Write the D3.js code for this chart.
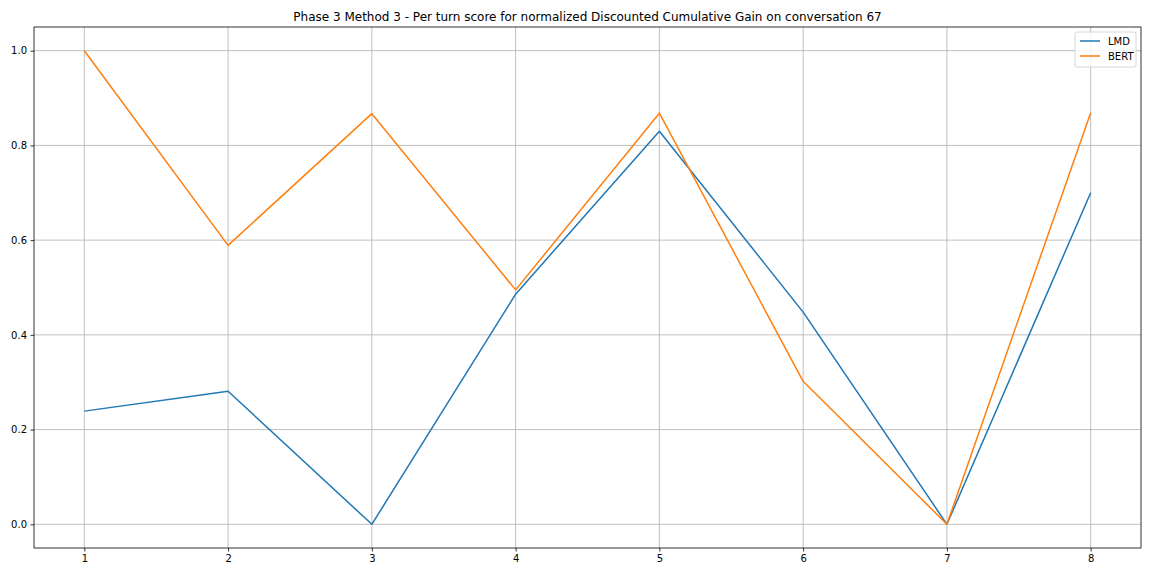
<!DOCTYPE html>
<html><head><meta charset="utf-8">
<script src="https://cdn.jsdelivr.net/npm/d3@7"></script>
<style>body{margin:0;background:#fff}svg{display:block;font-family:"DejaVu Sans",sans-serif}</style>
</head><body><svg id="c" width="1152" height="576"></svg>
<script>
const turns = [1,2,3,4,5,6,7,8];
const lmd = [0.239,0.281,0.0,0.486,0.830,0.448,0.0,0.700];
const bert = [1.0,0.589,0.867,0.495,0.868,0.302,0.0,0.869];
const seriesNames = ["LMD","BERT"];
const colors = ["#1f77b4","#ff7f0e"];
const yTicks = [0,0.2,0.4,0.6,0.8,1.0];
const title = "Phase 3 Method 3 - Per turn score for normalized Discounted Cumulative Gain on conversation 67";

const svg = d3.select("#c");
const L=34,R=1141,T=27,B=548;
const x = d3.scaleLinear().domain([0.65,8.35]).range([L,R]);
const y = d3.scaleLinear().domain([-0.05,1.05]).range([B,T]);

// grid
svg.append("g").selectAll("line").data(turns).join("line")
  .attr("x1",d=>x(d)).attr("x2",d=>x(d)).attr("y1",T).attr("y2",B)
  .attr("stroke","#b0b0b0").attr("stroke-width",0.8);
svg.append("g").selectAll("line").data(yTicks).join("line")
  .attr("y1",d=>y(d)).attr("y2",d=>y(d)).attr("x1",L).attr("x2",R)
  .attr("stroke","#b0b0b0").attr("stroke-width",0.8);

const xa = svg.append("g").attr("transform",`translate(0,${B})`)
  .call(d3.axisBottom(x).tickValues(turns).tickFormat(d3.format("d")).tickSize(3.5).tickPadding(3.5));
const ya = svg.append("g").attr("transform",`translate(${L},0)`)
  .call(d3.axisLeft(y).tickValues(yTicks).tickFormat(d3.format(".1f")).tickSize(3.5).tickPadding(3.5));
[xa,ya].forEach(a=>{a.select(".domain").remove();a.selectAll("text").attr("font-size",10).attr("fill","#000").attr("font-family","DejaVu Sans");a.selectAll("line").attr("stroke","#000").attr("stroke-width",0.8);});

svg.append("rect").attr("x",L).attr("y",T).attr("width",R-L).attr("height",B-T)
  .attr("fill","none").attr("stroke","#000").attr("stroke-width",0.8);

const line = d3.line().x((d,i)=>x(turns[i])).y(d=>y(d));
[lmd,bert].forEach((s,k)=>{
  svg.append("path").datum(s).attr("d",line).attr("fill","none")
    .attr("stroke",colors[k]).attr("stroke-width",1.5).attr("stroke-linejoin","round");
});

svg.append("text").attr("x",(L+R)/2).attr("y",T-6).attr("text-anchor","middle")
  .attr("font-size",12).text(title);

// legend
const lg = svg.append("g").attr("transform",`translate(${R-66},${T+5})`);
lg.append("rect").attr("width",61).attr("height",35).attr("rx",2).attr("fill","#fff")
  .attr("fill-opacity",0.8).attr("stroke","#ccc").attr("stroke-width",0.8);
seriesNames.forEach((n,i)=>{
  const yy = 9 + i*15;
  lg.append("line").attr("x1",5).attr("x2",25).attr("y1",yy).attr("y2",yy)
    .attr("stroke",colors[i]).attr("stroke-width",1.5);
  lg.append("text").attr("x",33).attr("y",yy+3.5).attr("font-size",10).text(n);
});
</script></body></html>
